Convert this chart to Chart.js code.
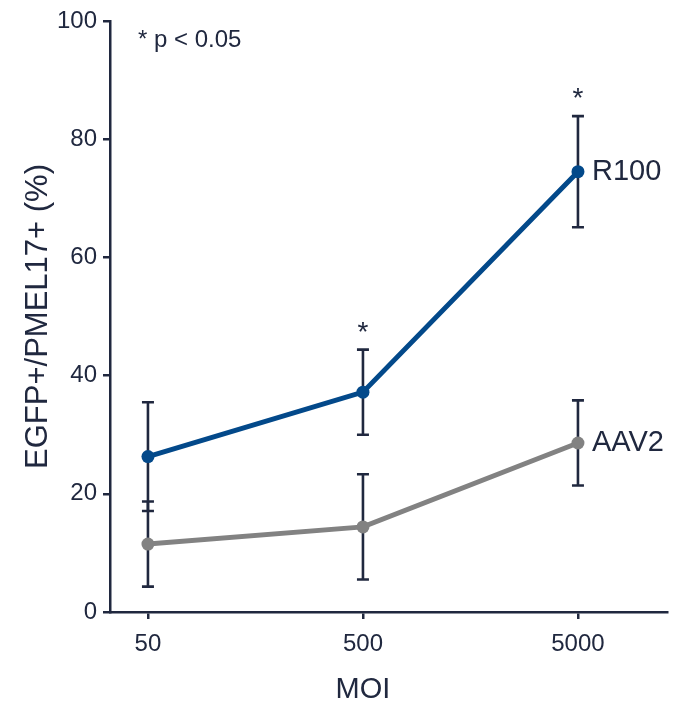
<!DOCTYPE html>
<html><head><meta charset="utf-8">
<script src="https://cdn.jsdelivr.net/npm/chart.js@4.4.1/dist/chart.umd.min.js"></script>
<style>html,body{margin:0;padding:0;background:#fff}#wrap{width:679px;height:705px}</style>
</head><body><div id="wrap"><canvas id="c" width="679" height="705"></canvas></div>
<script>
// ---- data ----
const moi = [50, 500, 5000];
const seriesNames = ['R100', 'AAV2'];
const r100 = [26.3, 37.2, 74.5];
const r100Err = [9.2, 7.2, 9.4];
const aav2 = [11.5, 14.4, 28.6];
const aav2Err = [7.2, 8.9, 7.2];
const r100Sig = [false, true, true];
const yTicks = [0, 20, 40, 60, 80, 100];
const xTitle = 'MOI';
const yTitle = 'EGFP+/PMEL17+ (%)';
const note = '* p < 0.05';

// ---- styles ----
const NAVY = '#20283f';
const BLUE = '#03498a';
const GRAY = '#828282';
const FONT = '"Liberation Sans", Arial, Helvetica, sans-serif';

const series = [
  {name: seriesNames[0], vals: r100, errs: r100Err, color: BLUE, sig: r100Sig},
  {name: seriesNames[1], vals: aav2, errs: aav2Err, color: GRAY, sig: [false, false, false]}
];

const overlay = {
  id: 'overlay',
  beforeDatasetsDraw(chart) {
    const {ctx, scales: {x, y}} = chart;
    ctx.save();
    ctx.strokeStyle = NAVY;
    ctx.lineWidth = 2.6;
    series.forEach(s => {
      s.vals.forEach((v, i) => {
        const px = x.getPixelForValue(moi[i]);
        const t = y.getPixelForValue(v + s.errs[i]);
        const b = y.getPixelForValue(v - s.errs[i]);
        ctx.beginPath();
        ctx.moveTo(px, t); ctx.lineTo(px, b);
        ctx.moveTo(px - 6, t); ctx.lineTo(px + 6, t);
        ctx.moveTo(px - 6, b); ctx.lineTo(px + 6, b);
        ctx.stroke();
      });
    });
    ctx.restore();
  },
  afterDatasetsDraw(chart) {
    const {ctx, chartArea, scales: {x, y}} = chart;
    ctx.save();
    ctx.fillStyle = NAVY;
    // significance stars
    ctx.font = '28px ' + FONT;
    ctx.textAlign = 'center';
    ctx.textBaseline = 'alphabetic';
    series.forEach(s => {
      s.vals.forEach((v, i) => {
        if (!s.sig[i]) return;
        const px = x.getPixelForValue(moi[i]);
        const t = y.getPixelForValue(v + s.errs[i]);
        ctx.fillText('*', px, t - 9);
      });
    });
    // series labels
    ctx.font = '29px ' + FONT;
    ctx.textAlign = 'left';
    ctx.textBaseline = 'middle';
    series.forEach(s => {
      const last = s.vals.length - 1;
      ctx.fillText(s.name, x.getPixelForValue(moi[last]) + 14, y.getPixelForValue(s.vals[last]));
    });
    // note
    ctx.font = '24px ' + FONT;
    ctx.fillText(note, chartArea.left + 28, chartArea.top + 19);
    // x title, centred on the category span
    ctx.font = '29px ' + FONT;
    ctx.textAlign = 'center';
    const cx = (x.getPixelForValue(moi[0]) + x.getPixelForValue(moi[moi.length - 1])) / 2;
    ctx.fillText(xTitle, cx, 690);
    ctx.restore();
  }
};

new Chart(document.getElementById('c'), {
  type: 'line',
  data: {
    datasets: series.map(s => ({
      label: s.name,
      data: s.vals.map((v, i) => ({x: moi[i], y: v})),
      borderColor: s.color,
      backgroundColor: s.color,
      borderWidth: 5,
      pointRadius: 6.5,
      pointBorderWidth: 0,
      pointBackgroundColor: s.color,
      tension: 0,
      fill: false
    }))
  },
  options: {
    responsive: false,
    devicePixelRatio: 1,
    animation: false,
    layout: {padding: {top: 21, right: 12, left: 0, bottom: 0}},
    plugins: {legend: {display: false}, tooltip: {enabled: false}},
    scales: {
      x: {
        type: 'logarithmic',
        min: 33.3,
        max: 12975,
        afterBuildTicks(scale) { scale.ticks = moi.map(v => ({value: v})); },
        afterFit(scale) { scale.height = 93; },
        ticks: {
          color: NAVY,
          font: {family: FONT, size: 24},
          padding: 11,
          maxRotation: 0,
          autoSkip: false,
          callback: v => String(v)
        },
        grid: {display: true, drawOnChartArea: false, drawTicks: true, tickLength: 7, color: NAVY, lineWidth: 2.5},
        border: {display: true, color: NAVY, width: 2.5},
        title: {display: false, text: xTitle}
      },
      y: {
        min: 0,
        max: 100,
        afterBuildTicks(scale) { scale.ticks = yTicks.map(v => ({value: v})); },
        afterFit(scale) { scale.width = 110; },
        ticks: {
          color: NAVY,
          font: {family: FONT, size: 24},
          padding: 6
        },
        grid: {display: true, drawOnChartArea: false, drawTicks: true, tickLength: 7, color: NAVY, lineWidth: 2.5},
        border: {display: true, color: NAVY, width: 2.5},
        title: {display: true, text: yTitle, color: NAVY, font: {family: FONT, size: 31, lineHeight: 1.2}, padding: {top: 20, bottom: 0}}
      }
    }
  },
  plugins: [overlay]
});
</script></body></html>
